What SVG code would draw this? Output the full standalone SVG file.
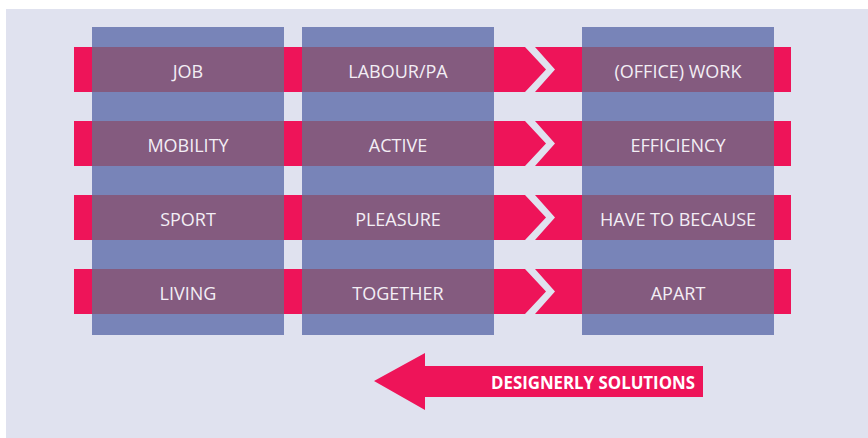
<svg xmlns="http://www.w3.org/2000/svg" width="868" height="438" viewBox="0 0 868 438">
<style>
.col{fill:#7884b8}
.band{fill:#ee1459}
.cell{fill:#845b7f}
.chev{fill:#e0e2ef}
.lbl{font-family:"Open Sans","Noto Sans",sans-serif;font-size:18px;fill:#f3eef5;text-anchor:middle}
.arrtxt{font-family:"Open Sans","Noto Sans",sans-serif;font-size:18.5px;font-weight:bold;fill:#ffffff}
</style>
<rect x="0" y="0" width="868" height="438" fill="#ffffff"/>
<rect x="6" y="9" width="862" height="429" fill="#e0e2ef"/>
<g id="columns">
<rect class="col" x="92" y="27" width="192" height="308"/>
<rect class="col" x="302" y="27" width="192" height="308"/>
<rect class="col" x="582" y="27" width="192" height="308"/>
</g>
<g id="bands">
<rect class="band" x="74" y="47" width="717" height="45"/>
<rect class="band" x="74" y="121" width="717" height="45"/>
<rect class="band" x="74" y="195" width="717" height="45"/>
<rect class="band" x="74" y="269" width="717" height="45"/>
</g>
<g id="connectors">
<polygon class="chev" points="525,47 535,47 555,69.5 535,92 525,92 546,69.5"/>
<polygon class="chev" points="525,121 535,121 555,143.5 535,166 525,166 546,143.5"/>
<polygon class="chev" points="525,195 535,195 555,217.5 535,240 525,240 546,217.5"/>
<polygon class="chev" points="525,269 535,269 555,291.5 535,314 525,314 546,291.5"/>
</g>
<g id="n-job"><rect class="cell" x="92" y="47" width="192" height="45"/><text class="lbl" x="188" y="77.5">JOB</text></g>
<g id="n-labour"><rect class="cell" x="302" y="47" width="192" height="45"/><text class="lbl" x="398" y="77.5">LABOUR/PA</text></g>
<g id="n-office"><rect class="cell" x="582" y="47" width="192" height="45"/><text class="lbl" x="678" y="77.5">(OFFICE) WORK</text></g>
<g id="n-mobility"><rect class="cell" x="92" y="121" width="192" height="45"/><text class="lbl" x="188" y="151.5">MOBILITY</text></g>
<g id="n-active"><rect class="cell" x="302" y="121" width="192" height="45"/><text class="lbl" x="398" y="151.5">ACTIVE</text></g>
<g id="n-efficiency"><rect class="cell" x="582" y="121" width="192" height="45"/><text class="lbl" x="678" y="151.5">EFFICIENCY</text></g>
<g id="n-sport"><rect class="cell" x="92" y="195" width="192" height="45"/><text class="lbl" x="188" y="225.5">SPORT</text></g>
<g id="n-pleasure"><rect class="cell" x="302" y="195" width="192" height="45"/><text class="lbl" x="398" y="225.5">PLEASURE</text></g>
<g id="n-have"><rect class="cell" x="582" y="195" width="192" height="45"/><text class="lbl" x="678" y="225.5">HAVE TO BECAUSE</text></g>
<g id="n-living"><rect class="cell" x="92" y="269" width="192" height="45"/><text class="lbl" x="188" y="299.5">LIVING</text></g>
<g id="n-together"><rect class="cell" x="302" y="269" width="192" height="45"/><text class="lbl" x="398" y="299.5">TOGETHER</text></g>
<g id="n-apart"><rect class="cell" x="582" y="269" width="192" height="45"/><text class="lbl" x="678" y="299.5">APART</text></g>
<g id="n-solutions">
<polygon class="band" points="374,381 425,353 425,366 703,366 703,397 425,397 425,410"/>
<text class="arrtxt" x="491" y="388.5" textLength="204" lengthAdjust="spacingAndGlyphs">DESIGNERLY SOLUTIONS</text>
</g>
</svg>
